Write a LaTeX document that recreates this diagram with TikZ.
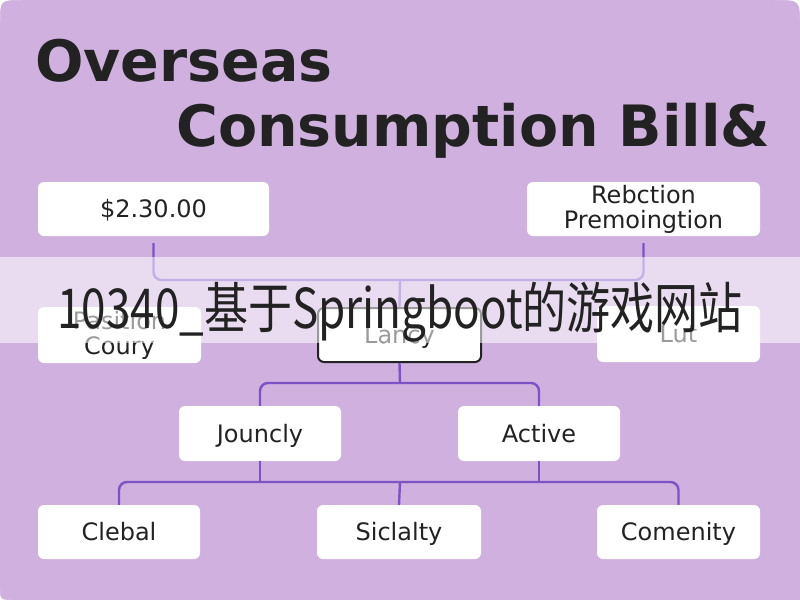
\documentclass[tikz,border=0pt]{standalone}
\usepackage{fontspec}
\setmainfont{DejaVu Sans}
\newfontfamily\cjkfont[FakeStretch=0.80]{Noto Sans CJK SC}
\definecolor{bgpurple}{HTML}{CFB0DF}
\definecolor{connc}{HTML}{7C52C4}
\definecolor{ink}{HTML}{222222}
\tikzset{
  wbox/.style={fill=white, rounded corners=6pt, inner sep=0pt, align=center, text=ink,
    font=\fontsize{24}{25}\selectfont},
  oneline/.style={text height=20pt, text depth=3pt},
  conn/.style={draw=connc, line width=2.4pt},
  rc/.style={rounded corners=8pt},
  titletext/.style={anchor=base west, inner sep=0pt, text=ink, font=\bfseries\fontsize{57}{60}\selectfont}
}
\begin{document}
\begin{tikzpicture}[x=1pt,y=-1pt]
\useasboundingbox (0,0) rectangle (800,600);
% background
\fill[bgpurple] (0,0) rectangle (800,600);
\fill[white] (0,0) -- (22,0) .. controls (0,0) .. (0,22) -- cycle;
\fill[white] (800,0) -- (775,0) .. controls (800,0) .. (800,25) -- cycle;
\fill[white] (0,600) -- (0,588) .. controls (0,600) .. (14,600) -- cycle;

% title
\node[titletext] (t1) at (35,81) {Overseas};
\node[titletext] (t2) at (176,146) {Consumption Bill\&};

% boxes
\node[wbox, oneline, minimum width=231pt, minimum height=54pt] (b1) at (153.5,209) {\$2.30.00};
\node[wbox, minimum width=233pt, minimum height=54pt] (b2) at (643.5,209) {Rebction\\Premoingtion};
\node[wbox, minimum width=163pt, minimum height=56pt] (p) at (119.5,335) {Pasition\\Coury};
\node[wbox, oneline, draw=ink, line width=2pt, minimum width=163pt, minimum height=54pt] (l) at (399.5,335) {Lancy};
\node[wbox, oneline, minimum width=163pt, minimum height=56pt] (lut) at (678.5,334) {Lut};
\node[wbox, oneline, minimum width=162pt, minimum height=55pt] (jo) at (260,433.5) {Jouncly};
\node[wbox, oneline, minimum width=162pt, minimum height=55pt] (ac) at (539,433.5) {Active};
\node[wbox, oneline, minimum width=162pt, minimum height=54pt] (cl) at (119,532) {Clebal};
\node[wbox, oneline, minimum width=164pt, minimum height=54pt] (si) at (399,532) {Siclalty};
\node[wbox, oneline, minimum width=163pt, minimum height=54pt] (co) at (678.5,532) {Comenity};

% junctions
\coordinate (j1) at (400,280);
\coordinate (j2) at (400,383);
\coordinate (j3) at (400,482);

% connectors
\draw[conn, rc] ([yshift=-7pt]b1.south) |- (j1) -| ([yshift=-7pt]b2.south);
\draw[conn] (j1) -- (l.north);
\draw[conn] (l.south) -- (j2);
\draw[conn, rc] (jo.north) |- (j2) -| (ac.north);
\draw[conn, rc] (cl.north) |- (j3) -| (co.north);
\draw[conn] (jo.south) -- (jo.south |- j3);
\draw[conn] (ac.south) -- (ac.south |- j3);
\draw[conn] (j3) -- (si.north);

% banner
\fill[white, opacity=0.55] (0,257) rectangle (800,343);
\node[anchor=base, inner sep=0pt, text=ink, font=\cjkfont\fontsize{55}{60}\selectfont] (ban) at (400,328) {10340\_基于Springboot的游戏网站};
\end{tikzpicture}
\end{document}
